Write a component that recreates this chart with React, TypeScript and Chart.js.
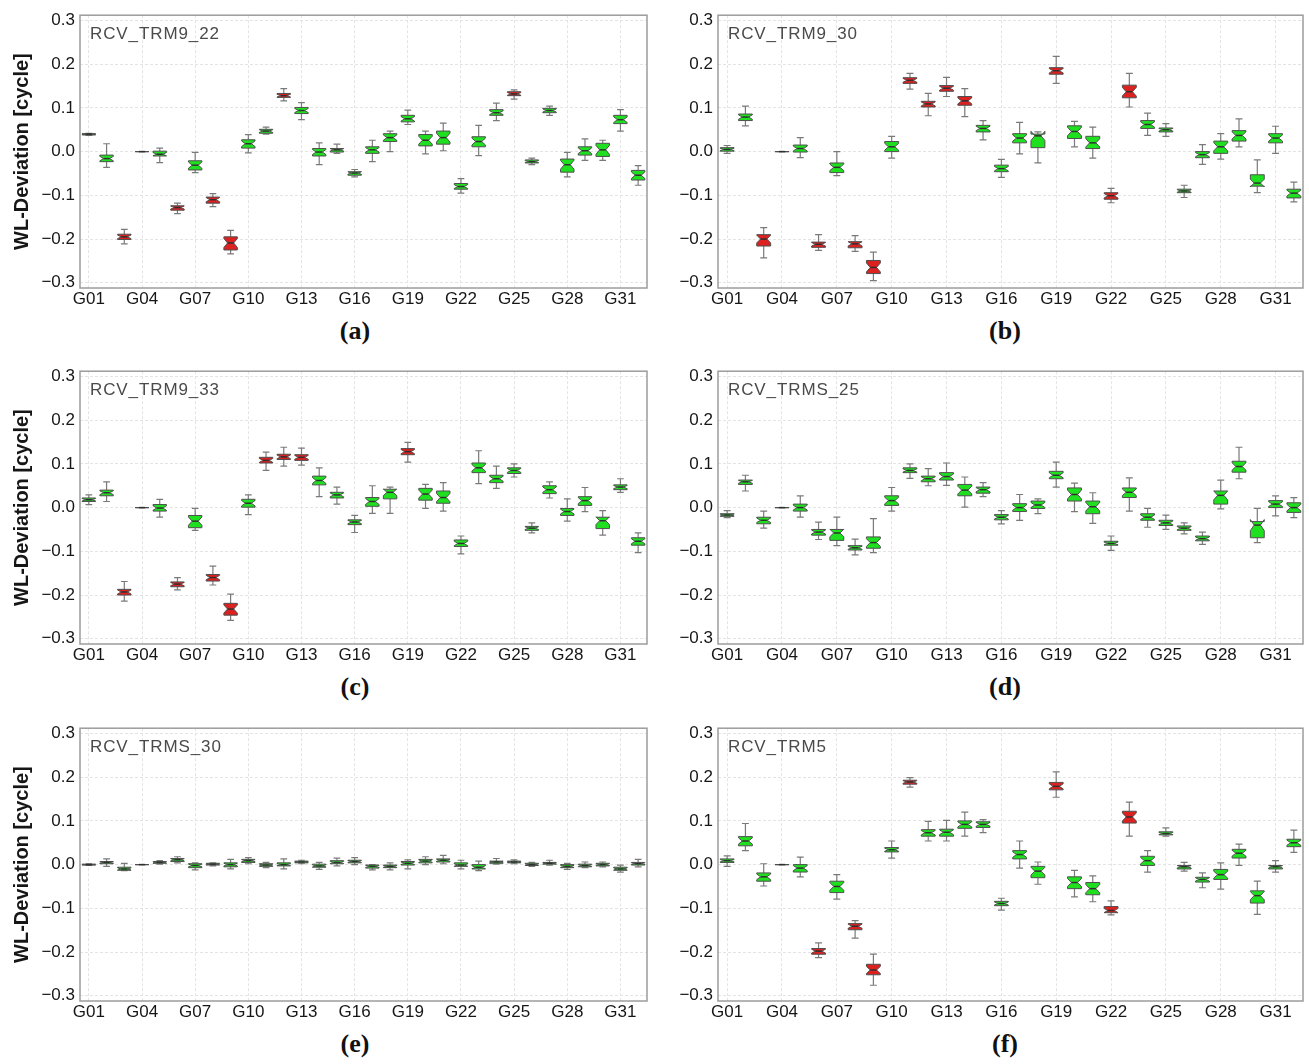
import React, { useEffect, useRef } from 'react';
import { Chart, registerables } from 'chart.js';
Chart.register(...registerables);

// ---------- shared axis data ----------
const SATELLITES = ['G01','G02','G03','G04','G05','G06','G07','G08','G09','G10','G11','G12','G13','G14','G15','G16','G17','G18','G19','G20','G21','G22','G23','G24','G25','G26','G27','G28','G29','G30','G31','G32'];
const X_TICK_LABELS = ['G01','G04','G07','G10','G13','G16','G19','G22','G25','G28','G31'];
const Y_TICKS = [-0.3, -0.2, -0.1, 0, 0.1, 0.2, 0.3];
const Y_TICK_LABELS = ['\u22120.3','\u22120.2','\u22120.1','0.0','0.1','0.2','0.3'];
const Y_MIN = -0.312;
const Y_MAX = 0.312;
const Y_TITLE = 'WL-Deviation [cycle]';

// ---------- (a) RCV_TRM9_22 ----------
const A_NAME = 'RCV_TRM9_22';
const A_LO  = [0.037,-0.036,-0.211,0,-0.025,-0.142,-0.048,-0.126,-0.234,-0.003,0.040,0.116,0.073,-0.030,-0.004,-0.058,-0.023,0.000,0.062,-0.005,0.002,-0.095,-0.009,0.071,0.120,-0.030,0.083,-0.058,-0.020,-0.020,0.047,-0.077];
const A_Q1  = [0.038,-0.023,-0.201,0,-0.010,-0.134,-0.042,-0.118,-0.225,0.008,0.042,0.124,0.087,-0.010,-0.001,-0.054,-0.004,0.023,0.068,0.013,0.017,-0.086,0.011,0.083,0.128,-0.026,0.089,-0.047,-0.008,-0.011,0.064,-0.065];
const A_MED = [0.040,-0.016,-0.195,0,-0.006,-0.128,-0.031,-0.110,-0.209,0.018,0.047,0.128,0.094,-0.001,0.004,-0.049,0.004,0.032,0.075,0.026,0.032,-0.080,0.023,0.089,0.132,-0.023,0.094,-0.030,0.002,0.004,0.073,-0.054];
const A_Q3  = [0.041,-0.008,-0.189,0,0.001,-0.124,-0.021,-0.104,-0.195,0.027,0.051,0.133,0.101,0.007,0.007,-0.046,0.011,0.041,0.083,0.039,0.047,-0.073,0.034,0.096,0.137,-0.019,0.099,-0.017,0.011,0.019,0.083,-0.043];
const A_HI  = [0.042,0.018,-0.178,0,0.008,-0.118,-0.002,-0.096,-0.180,0.039,0.056,0.144,0.112,0.020,0.017,-0.041,0.026,0.047,0.095,0.047,0.065,-0.062,0.060,0.111,0.141,-0.015,0.104,-0.002,0.029,0.026,0.096,-0.032];
const A_RED = ['G03','G06','G08','G09','G12','G25'];

// ---------- (b) RCV_TRM9_30 ----------
const B_NAME = 'RCV_TRM9_30';
const B_LO  = [-0.004,0.059,-0.243,0,-0.014,-0.226,-0.055,-0.228,-0.295,-0.015,0.143,0.082,0.126,0.080,0.027,-0.059,-0.005,-0.026,0.156,0.011,-0.015,-0.117,0.102,0.037,0.035,-0.105,-0.029,-0.017,0.011,-0.094,-0.004,-0.115];
const B_Q1  = [0.001,0.071,-0.216,0,-0.001,-0.219,-0.048,-0.220,-0.279,0.000,0.156,0.102,0.138,0.106,0.045,-0.046,0.020,0.009,0.177,0.030,0.007,-0.109,0.123,0.053,0.045,-0.094,-0.014,-0.004,0.024,-0.079,0.020,-0.106];
const B_MED = [0.005,0.079,-0.200,0,0.007,-0.212,-0.036,-0.211,-0.265,0.011,0.163,0.109,0.145,0.116,0.053,-0.039,0.031,0.036,0.185,0.046,0.020,-0.101,0.137,0.062,0.050,-0.090,-0.007,0.011,0.037,-0.072,0.031,-0.095];
const B_Q3  = [0.009,0.086,-0.190,0,0.015,-0.207,-0.026,-0.206,-0.249,0.023,0.169,0.115,0.151,0.126,0.060,-0.031,0.041,0.040,0.192,0.059,0.035,-0.094,0.152,0.071,0.054,-0.086,0.000,0.024,0.048,-0.053,0.041,-0.086];
const B_HI  = [0.014,0.104,-0.174,0,0.032,-0.190,0.000,-0.192,-0.230,0.035,0.179,0.133,0.170,0.144,0.071,-0.018,0.067,0.045,0.218,0.069,0.056,-0.084,0.179,0.088,0.064,-0.077,0.016,0.041,0.075,-0.019,0.058,-0.070];
const B_RED = ['G03','G06','G08','G09','G11','G12','G13','G14','G19','G22','G23'];

// ---------- (c) RCV_TRM9_33 ----------
const C_NAME = 'RCV_TRM9_33';
const C_LO  = [0.007,0.014,-0.214,0,-0.022,-0.188,-0.052,-0.177,-0.258,-0.016,0.085,0.095,0.097,0.025,0.008,-0.057,-0.013,-0.013,0.104,-0.002,-0.008,-0.106,0.055,0.044,0.070,-0.058,0.022,-0.031,-0.009,-0.063,0.035,-0.103];
const C_Q1  = [0.014,0.027,-0.200,0,-0.008,-0.181,-0.046,-0.168,-0.246,0.001,0.102,0.110,0.108,0.052,0.022,-0.039,0.003,0.020,0.121,0.017,0.010,-0.089,0.080,0.057,0.078,-0.052,0.032,-0.018,0.005,-0.048,0.041,-0.086];
const C_MED = [0.018,0.034,-0.193,0,-0.001,-0.175,-0.031,-0.160,-0.232,0.010,0.108,0.116,0.115,0.062,0.029,-0.033,0.014,0.035,0.128,0.031,0.023,-0.082,0.091,0.066,0.085,-0.047,0.041,-0.009,0.016,-0.030,0.047,-0.077];
const C_Q3  = [0.022,0.040,-0.187,0,0.007,-0.170,-0.018,-0.153,-0.219,0.019,0.115,0.122,0.121,0.072,0.035,-0.028,0.023,0.042,0.135,0.044,0.038,-0.074,0.102,0.074,0.091,-0.043,0.050,-0.002,0.025,-0.022,0.052,-0.069];
const C_HI  = [0.029,0.059,-0.169,0,0.019,-0.160,-0.002,-0.134,-0.198,0.029,0.127,0.138,0.136,0.091,0.047,-0.018,0.050,0.047,0.149,0.053,0.057,-0.065,0.130,0.095,0.100,-0.035,0.059,0.020,0.046,-0.007,0.066,-0.058];
const C_RED = ['G03','G06','G08','G09','G11','G12','G13','G19'];

// ---------- (d) RCV_TRMS_25 ----------
const D_NAME = 'RCV_TRMS_25';
const D_LO  = [-0.023,0.038,-0.047,0,-0.022,-0.073,-0.087,-0.108,-0.103,-0.008,0.067,0.050,0.051,0.001,0.025,-0.037,-0.029,-0.014,0.047,-0.009,-0.036,-0.098,-0.008,-0.045,-0.050,-0.060,-0.084,-0.003,0.066,-0.080,-0.019,-0.023];
const D_Q1  = [-0.020,0.053,-0.037,0,-0.008,-0.063,-0.075,-0.097,-0.093,0.005,0.080,0.059,0.063,0.027,0.033,-0.028,-0.009,-0.002,0.066,0.015,-0.014,-0.086,0.023,-0.029,-0.041,-0.052,-0.076,0.008,0.081,-0.069,0.000,-0.011];
const D_MED = [-0.017,0.059,-0.029,0,0.000,-0.056,-0.058,-0.092,-0.080,0.016,0.085,0.066,0.071,0.040,0.041,-0.022,0.000,0.006,0.074,0.030,0.002,-0.082,0.035,-0.022,-0.035,-0.047,-0.071,0.028,0.094,-0.040,0.008,0.000];
const D_Q3  = [-0.014,0.063,-0.022,0,0.008,-0.050,-0.050,-0.087,-0.067,0.027,0.091,0.072,0.080,0.053,0.047,-0.016,0.009,0.015,0.083,0.045,0.015,-0.077,0.045,-0.014,-0.029,-0.042,-0.065,0.038,0.106,-0.032,0.016,0.011];
const D_HI  = [-0.007,0.074,-0.008,0,0.027,-0.033,-0.022,-0.072,-0.025,0.046,0.100,0.089,0.102,0.070,0.057,-0.007,0.030,0.020,0.104,0.056,0.034,-0.065,0.068,-0.002,-0.017,-0.035,-0.056,0.063,0.138,-0.002,0.027,0.023];
const D_RED: string[] = [];

// ---------- (e) RCV_TRMS_30 ----------
const E_NAME = 'RCV_TRMS_30';
const E_LO  = [-0.002,-0.004,-0.014,0,0.001,0.004,-0.012,-0.003,-0.010,0.002,-0.007,-0.010,0.002,-0.011,-0.003,0.000,-0.012,-0.012,-0.010,0.000,0.002,-0.010,-0.014,0.001,0.002,-0.004,-0.001,-0.011,-0.007,-0.005,-0.017,-0.005];
const E_Q1  = [-0.001,0.002,-0.013,0,0.003,0.007,-0.007,-0.001,-0.005,0.005,-0.004,-0.003,0.004,-0.006,0.002,0.004,-0.008,-0.007,-0.001,0.004,0.006,-0.004,-0.010,0.003,0.004,-0.002,0.001,-0.007,-0.005,-0.003,-0.013,-0.001];
const E_MED = [0.000,0.005,-0.010,0,0.005,0.011,-0.002,0.001,0.000,0.009,-0.001,0.000,0.006,-0.003,0.005,0.007,-0.004,-0.004,0.003,0.008,0.010,-0.001,-0.006,0.006,0.006,0.000,0.003,-0.004,-0.002,0.000,-0.010,0.002];
const E_Q3  = [0.001,0.007,-0.006,0,0.007,0.014,0.002,0.003,0.004,0.012,0.002,0.004,0.008,0.001,0.009,0.010,-0.001,-0.001,0.007,0.012,0.013,0.004,0.000,0.008,0.008,0.003,0.005,0.000,0.001,0.003,-0.006,0.005];
const E_HI  = [0.002,0.013,0.003,0,0.009,0.018,0.004,0.004,0.012,0.016,0.005,0.013,0.010,0.005,0.015,0.016,0.000,0.004,0.011,0.018,0.021,0.010,0.008,0.014,0.011,0.005,0.010,0.003,0.006,0.006,-0.001,0.012];
const E_RED: string[] = [];

// ---------- (f) RCV_TRM5 ----------
const F_NAME = 'RCV_TRM5';
const F_LO  = [-0.004,0.032,-0.049,0,-0.028,-0.213,-0.079,-0.168,-0.276,0.015,0.177,0.054,0.054,0.065,0.073,-0.104,-0.008,-0.045,0.154,-0.074,-0.085,-0.115,0.065,-0.017,0.065,-0.015,-0.053,-0.056,-0.002,-0.114,-0.017,0.028];
const F_Q1  = [0.005,0.043,-0.038,0,-0.017,-0.205,-0.064,-0.149,-0.252,0.029,0.184,0.065,0.065,0.083,0.085,-0.094,0.013,-0.030,0.171,-0.055,-0.069,-0.110,0.095,-0.002,0.068,-0.010,-0.040,-0.034,0.015,-0.088,-0.010,0.041];
const F_MED = [0.009,0.054,-0.028,0,-0.008,-0.198,-0.050,-0.141,-0.241,0.034,0.189,0.073,0.074,0.092,0.092,-0.089,0.023,-0.015,0.179,-0.041,-0.055,-0.105,0.109,0.009,0.071,-0.005,-0.034,-0.023,0.026,-0.071,-0.005,0.050];
const F_Q3  = [0.013,0.064,-0.019,0,0.000,-0.192,-0.038,-0.135,-0.228,0.039,0.193,0.080,0.081,0.100,0.098,-0.084,0.032,-0.004,0.188,-0.028,-0.041,-0.096,0.122,0.019,0.075,-0.002,-0.029,-0.011,0.035,-0.060,-0.002,0.058];
const F_HI  = [0.020,0.094,0.002,0,0.017,-0.179,-0.023,-0.128,-0.205,0.054,0.199,0.099,0.101,0.120,0.103,-0.077,0.054,0.006,0.212,-0.013,-0.026,-0.083,0.143,0.032,0.084,0.005,-0.019,0.004,0.047,-0.038,0.009,0.079];
const F_RED = ['G06','G08','G09','G11','G19','G22','G23'];

// ---------- styling ----------
const FONT = '"Liberation Sans", Arial, Helvetica, sans-serif';
const SERIF = '"Liberation Serif", "Times New Roman", Times, serif';
const GREEN = '#1fe01f';
const RED = '#dc2121';
const EDGE = '#4f4f4f';
const WHISKER = '#7a7a7a';
const MEDIAN = '#2f2f2f';
const GRID = '#e4e4e4';
const FRAME = '#9c9c9c';
const BOX_FRAC = 0.76;
const NOTCH_FRAC = 0.34;
const WAIST_FRAC = 0.45;
const CANVAS_H = 316;
const X_AXIS_H = 28;

type Panel = {
  name: string; letter: string;
  lo: number[]; q1: number[]; med: number[]; q3: number[]; hi: number[]; red: string[];
  left: number; top: number; width: number; yAxisW: number; rightPad: number; yTitle: boolean;
  labelX: number;
};

const PANELS: Panel[] = [
  { name: A_NAME, letter: '(a)', lo: A_LO, q1: A_Q1, med: A_MED, q3: A_Q3, hi: A_HI, red: A_RED, left: 0, top: 0, width: 660, yAxisW: 80, rightPad: 13, yTitle: true, labelX: 355 },
  { name: B_NAME, letter: '(b)', lo: B_LO, q1: B_Q1, med: B_MED, q3: B_Q3, hi: B_HI, red: B_RED, left: 660, top: 0, width: 649, yAxisW: 58, rightPad: 6, yTitle: false, labelX: 1005 },
  { name: C_NAME, letter: '(c)', lo: C_LO, q1: C_Q1, med: C_MED, q3: C_Q3, hi: C_HI, red: C_RED, left: 0, top: 356, width: 660, yAxisW: 80, rightPad: 13, yTitle: true, labelX: 355 },
  { name: D_NAME, letter: '(d)', lo: D_LO, q1: D_Q1, med: D_MED, q3: D_Q3, hi: D_HI, red: D_RED, left: 660, top: 356, width: 649, yAxisW: 58, rightPad: 6, yTitle: false, labelX: 1005 },
  { name: E_NAME, letter: '(e)', lo: E_LO, q1: E_Q1, med: E_MED, q3: E_Q3, hi: E_HI, red: E_RED, left: 0, top: 713, width: 660, yAxisW: 80, rightPad: 13, yTitle: true, labelX: 355 },
  { name: F_NAME, letter: '(f)', lo: F_LO, q1: F_Q1, med: F_MED, q3: F_Q3, hi: F_HI, red: F_RED, left: 660, top: 713, width: 649, yAxisW: 58, rightPad: 6, yTitle: false, labelX: 1005 },
];

function notchedBoxPlugin(p: Panel) {
  return {
    id: 'notchedBoxes',
    afterDatasetsDraw(chart: any) {
      const { ctx } = chart;
      const x = chart.scales.x;
      const y = chart.scales.y;
      const step = x.getPixelForValue(1) - x.getPixelForValue(0);
      const half = (step * BOX_FRAC) / 2;
      const waist = half * WAIST_FRAC;
      const cap = half * 0.5;
      ctx.save();
      SATELLITES.forEach((sat, i) => {
        const cx = x.getPixelForValue(i);
        const lo = p.lo[i], q1 = p.q1[i], md = p.med[i], q3 = p.q3[i], hi = p.hi[i];
        const yLo = y.getPixelForValue(lo);
        const yQ1 = y.getPixelForValue(q1);
        const yMd = y.getPixelForValue(md);
        const yQ3 = y.getPixelForValue(q3);
        const yHi = y.getPixelForValue(hi);
        const nh = (q3 - q1) * NOTCH_FRAC;
        const yNt = y.getPixelForValue(md + nh);
        const yNb = y.getPixelForValue(md - nh);
        // whiskers
        ctx.strokeStyle = WHISKER;
        ctx.lineWidth = 1.2;
        ctx.beginPath();
        ctx.moveTo(cx, yQ3); ctx.lineTo(cx, yHi);
        ctx.moveTo(cx - cap, yHi); ctx.lineTo(cx + cap, yHi);
        ctx.moveTo(cx, yQ1); ctx.lineTo(cx, yLo);
        ctx.moveTo(cx - cap, yLo); ctx.lineTo(cx + cap, yLo);
        ctx.stroke();
        // notched box
        ctx.beginPath();
        ctx.moveTo(cx - half, yQ1);
        ctx.lineTo(cx - half, yNb);
        ctx.lineTo(cx - waist, yMd);
        ctx.lineTo(cx - half, yNt);
        ctx.lineTo(cx - half, yQ3);
        ctx.lineTo(cx + half, yQ3);
        ctx.lineTo(cx + half, yNt);
        ctx.lineTo(cx + waist, yMd);
        ctx.lineTo(cx + half, yNb);
        ctx.lineTo(cx + half, yQ1);
        ctx.closePath();
        ctx.fillStyle = p.red.includes(sat) ? RED : GREEN;
        ctx.fill();
        ctx.strokeStyle = EDGE;
        ctx.lineWidth = 1;
        ctx.stroke();
        // median
        ctx.strokeStyle = MEDIAN;
        ctx.lineWidth = 1.5;
        ctx.beginPath();
        ctx.moveTo(cx - waist, yMd); ctx.lineTo(cx + waist, yMd);
        ctx.stroke();
      });
      ctx.restore();
    },
    afterDraw(chart: any) {
      const { ctx, chartArea: a } = chart;
      ctx.save();
      ctx.strokeStyle = FRAME;
      ctx.lineWidth = 1.5;
      ctx.strokeRect(a.left, a.top, a.right - a.left, a.bottom - a.top);
      ctx.restore();
    },
  };
}

function PanelChart({ p }: { p: Panel }) {
  const ref = useRef<HTMLCanvasElement>(null);
  useEffect(() => {
    if (!ref.current) return;
    const chart = new Chart(ref.current, {
      type: 'bar',
      data: {
        labels: SATELLITES,
        datasets: [{
          label: p.name,
          data: SATELLITES.map((_, i) => [p.lo[i], p.hi[i]]) as any,
          backgroundColor: 'rgba(0,0,0,0)',
          borderWidth: 0,
        }],
      },
      options: {
        responsive: false,
        animation: false,
        events: [],
        layout: { padding: { top: 12, right: p.rightPad, bottom: 0, left: 0 } },
        plugins: { legend: { display: false }, tooltip: { enabled: false }, title: { display: false } },
        scales: {
          x: {
            type: 'category',
            offset: true,
            grid: {
              offset: false,
              drawTicks: false,
              lineWidth: 1,
              color: (c: any) => (X_TICK_LABELS.includes(SATELLITES[c.index]) ? GRID : 'rgba(0,0,0,0)'),
            },
            border: { display: false, dash: [3, 2] },
            ticks: {
              autoSkip: false, maxRotation: 0, minRotation: 0, padding: 1,
              color: '#161616',
              font: { family: FONT, size: 17 },
              callback: (_v: any, i: number) => (X_TICK_LABELS.includes(SATELLITES[i]) ? SATELLITES[i] : ''),
            },
            afterFit: (s: any) => { s.height = X_AXIS_H; },
          },
          y: {
            type: 'linear',
            min: Y_MIN,
            max: Y_MAX,
            afterBuildTicks: (s: any) => { s.ticks = Y_TICKS.map((v) => ({ value: v })); },
            grid: { drawTicks: false, color: GRID, lineWidth: 1 },
            border: { display: false, dash: [3, 2] },
            ticks: {
              padding: 5,
              color: '#161616',
              font: { family: FONT, size: 17 },
              callback: (_v: any, i: number) => Y_TICK_LABELS[i],
            },
            title: {
              display: p.yTitle,
              text: Y_TITLE,
              color: '#161616',
              font: { family: FONT, size: 20, weight: 'bold' },
              padding: { top: 10, bottom: 0 },
            },
            afterFit: (s: any) => { s.width = p.yAxisW; },
          },
        },
      } as any,
      plugins: [notchedBoxPlugin(p)],
    });
    return () => chart.destroy();
  }, [p]);
  return (
    <canvas
      ref={ref}
      width={p.width}
      height={CANVAS_H}
      style={{ position: 'absolute', left: p.left, top: p.top, width: p.width, height: CANVAS_H }}
    />
  );
}

export default function App() {
  return (
    <div style={{ position: 'absolute', left: 0, top: 0, width: 1309, height: 1064, background: '#ffffff', overflow: 'hidden' }}>
      {PANELS.map((p) => (
        <PanelChart key={p.name} p={p} />
      ))}
      {PANELS.map((p) => (
        <div
          key={p.name + '-title'}
          style={{
            position: 'absolute', left: p.left + p.yAxisW + 10, top: p.top + 12 + 13,
            font: `17px ${FONT}`, lineHeight: '17px', letterSpacing: '0.9px', color: '#4a4a4a', whiteSpace: 'nowrap',
          }}
        >
          {p.name}
        </div>
      ))}
      {PANELS.map((p) => (
        <div
          key={p.name + '-letter'}
          style={{
            position: 'absolute', left: p.labelX - 50, width: 100, top: p.top + 331 - 13, textAlign: 'center',
            font: `bold 26px ${SERIF}`, lineHeight: '26px', color: '#111',
          }}
        >
          {p.letter}
        </div>
      ))}
    </div>
  );
}
